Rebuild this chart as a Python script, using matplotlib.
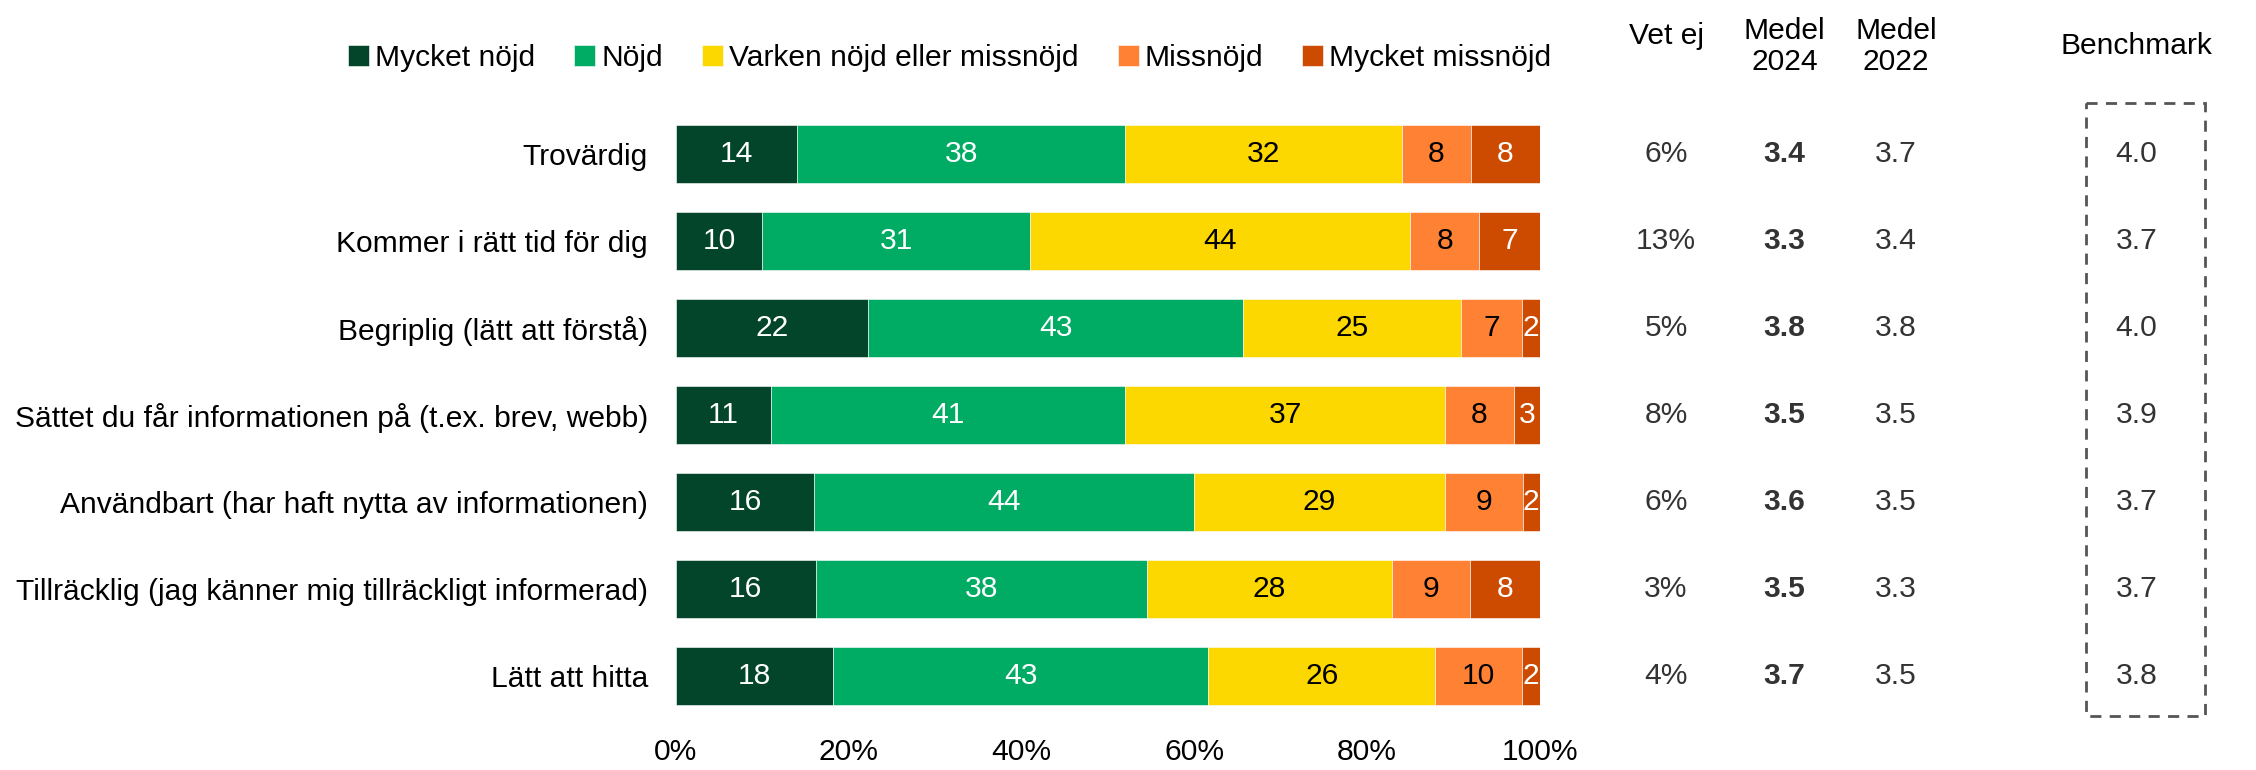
import numpy as np
import matplotlib
matplotlib.use("Agg")
import matplotlib.pyplot as plt
from matplotlib.patches import Rectangle
from matplotlib.transforms import blended_transform_factory

plt.rcParams['font.family'] = ['Liberation Sans', 'DejaVu Sans']

categories = ["Trovärdig",
              "Kommer i rätt tid för dig",
              "Begriplig (lätt att förstå)",
              "Sättet du får informationen på (t.ex. brev, webb)",
              "Användbart (har haft nytta av informationen)",
              "Tillräcklig (jag känner mig tillräckligt informerad)",
              "Lätt att hitta"]
series_names = ["Mycket nöjd", "Nöjd", "Varken nöjd eller missnöjd", "Missnöjd", "Mycket missnöjd"]
mycket_nojd = [14, 10, 22, 11, 16, 16, 18]
nojd = [38, 31, 43, 41, 44, 38, 43]
varken = [32, 44, 25, 37, 29, 28, 26]
missnojd = [8, 8, 7, 8, 9, 9, 10]
mycket_missnojd = [8, 7, 2, 3, 2, 8, 2]

vet_ej = [6, 13, 5, 8, 6, 3, 4]
medel_2024 = [3.4, 3.3, 3.8, 3.5, 3.6, 3.5, 3.7]
medel_2022 = [3.7, 3.4, 3.8, 3.5, 3.5, 3.3, 3.5]
benchmark = [4.0, 3.7, 4.0, 3.9, 3.7, 3.7, 3.8]

colors = ['#03452a', '#00ab64', '#fdd700', '#ff8133', '#cc4b00']
label_colors = ['white', 'white', 'black', 'black', 'white']
FS = 21.6

fig = plt.figure(figsize=(22.56, 7.7), dpi=100)
ax = fig.add_axes([0.2996, 0.0656, 0.383, 0.791])

data = np.array([mycket_nojd, nojd, varken, missnojd, mycket_missnojd], dtype=float)
# bars are drawn to fill 100% (rounded labels may not sum to 100)
shares = data / data.sum(axis=0) * 100
y = np.arange(len(categories))
left = np.zeros(len(categories))
handles = []
for i, name in enumerate(series_names):
    bars = ax.barh(y, shares[i], left=left, height=0.67, color=colors[i],
                   edgecolor='white', linewidth=0.4, label=name)
    handles.append(bars)
    for j, b in enumerate(bars):
        ax.text(left[j] + shares[i][j] / 2, y[j], f"{int(data[i][j])}",
                ha='center', va='center', fontsize=FS, color=label_colors[i])
    left += shares[i]

ax.set_xlim(0, 100)
ax.set_ylim(len(categories) - 0.5, -0.5)
ax.set_yticks(y)
ax.set_yticklabels(categories, fontsize=FS)
ax.set_xticks(np.arange(0, 101, 20))
ax.set_xticklabels([f"{t}%" for t in range(0, 101, 20)], fontsize=FS)
ax.tick_params(axis='y', length=0, pad=20)
ax.tick_params(axis='x', length=0, pad=13)
for s in ax.spines.values():
    s.set_visible(False)

fig.legend(handles=handles, loc='center', bbox_to_anchor=(0.421, 0.925), ncol=5,
           frameon=False, fontsize=FS, handlelength=0.7, handleheight=0.7,
           handletextpad=0.2, columnspacing=1.3)

# table columns to the right
tr = blended_transform_factory(fig.transFigure, ax.transData)
col_x = [0.7385, 0.791, 0.8405, 0.947]
gray = '#333333'
for j in range(len(categories)):
    ax.text(col_x[0], y[j], f"{vet_ej[j]}%", transform=tr, ha='center', va='center',
            fontsize=FS, color=gray)
    ax.text(col_x[1], y[j], f"{medel_2024[j]:.1f}", transform=tr, ha='center', va='center',
            fontsize=FS, color=gray, fontweight='bold')
    ax.text(col_x[2], y[j], f"{medel_2022[j]:.1f}", transform=tr, ha='center', va='center',
            fontsize=FS, color=gray)
    ax.text(col_x[3], y[j], f"{benchmark[j]:.1f}", transform=tr, ha='center', va='center',
            fontsize=FS, color=gray)

fig.text(col_x[0], 0.953, "Vet ej", ha='center', va='center', fontsize=FS)
fig.text(col_x[1], 0.94, "Medel\n2024", ha='center', va='center', fontsize=FS, linespacing=1.15)
fig.text(col_x[2], 0.94, "Medel\n2022", ha='center', va='center', fontsize=FS, linespacing=1.15)
fig.text(col_x[3], 0.94, "Benchmark", ha='center', va='center', fontsize=FS)

box = Rectangle((0.9245, -0.58), 0.053, 7.04, transform=tr, fill=False,
                edgecolor='#555555', linestyle=(0, (4, 3)), linewidth=2, clip_on=False)
ax.add_patch(box)

fig.savefig("out.png", dpi=100)
